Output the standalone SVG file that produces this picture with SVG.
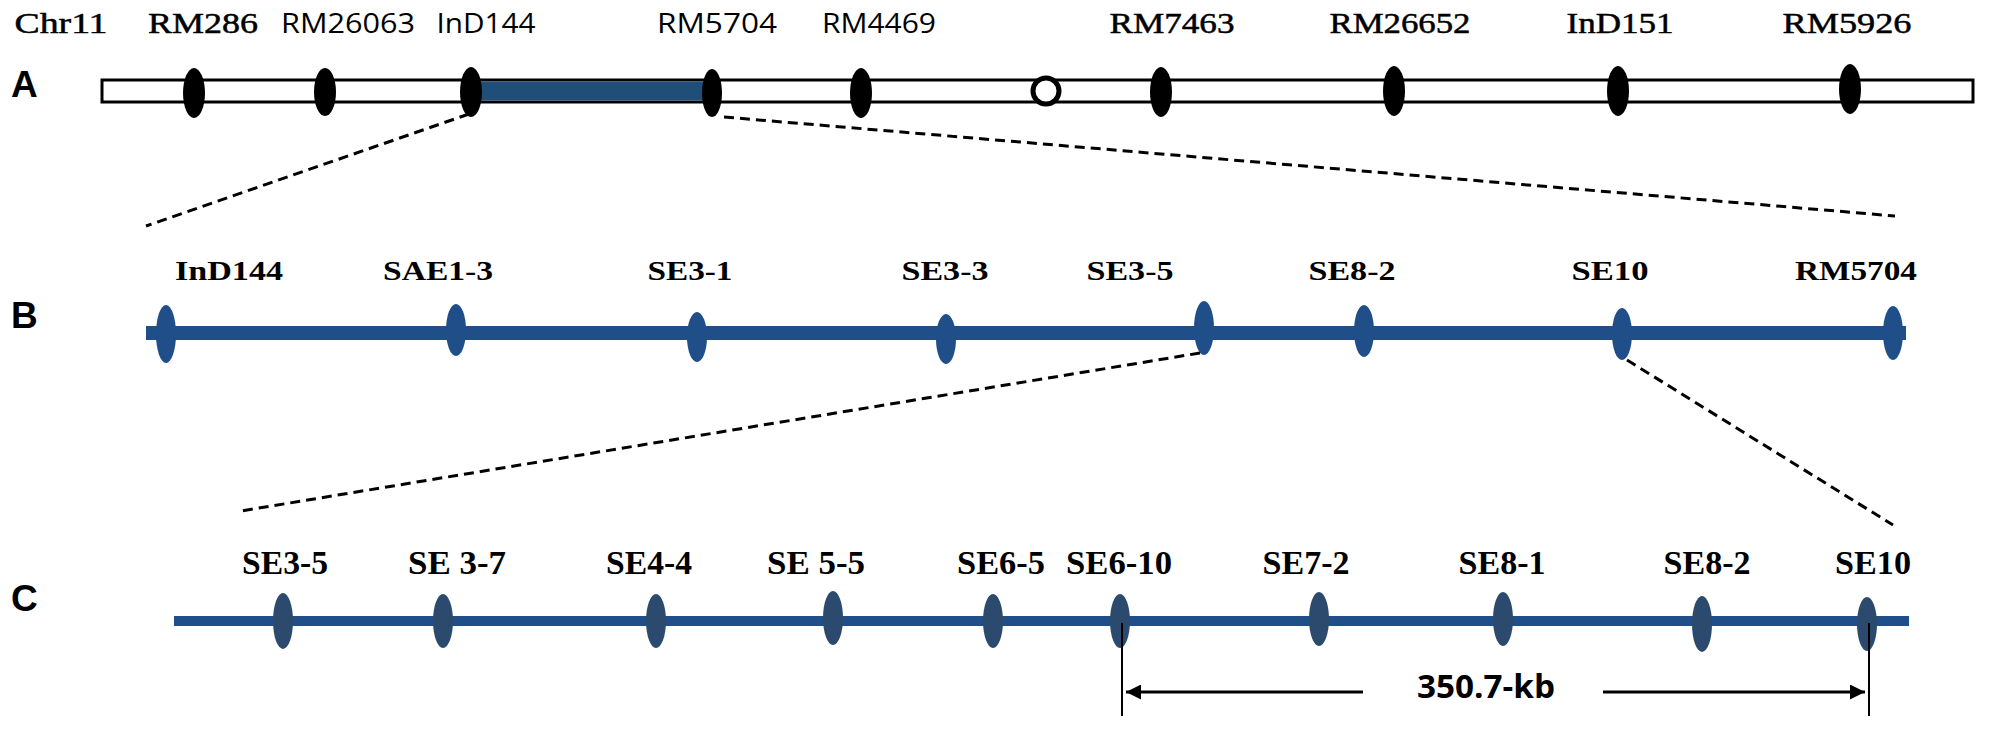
<svg xmlns="http://www.w3.org/2000/svg" width="1992" height="730" viewBox="0 0 1992 730">
<style>
.ts{font-family:"Liberation Serif","Times New Roman",serif;font-size:30px;fill:#000;stroke:#000;stroke-width:0.5;text-anchor:middle}
.tsb{font-family:"Liberation Serif","Times New Roman",serif;font-size:27px;font-weight:bold;fill:#000;text-anchor:middle}
.tsc{font-family:"Liberation Serif","Times New Roman",serif;font-size:33px;font-weight:bold;fill:#000;text-anchor:middle}
.ss{font-family:"Open Sans","Liberation Sans",sans-serif;font-size:28px;fill:#000;text-anchor:middle}
.lab{font-family:"Liberation Sans",Arial,sans-serif;font-size:37px;font-weight:bold;fill:#000}
.mA{fill:#000}
.mB{fill:#1f4e89}
.mC{fill:#2c4a6e}
.dash{stroke:#000;stroke-width:3;stroke-dasharray:10 6;fill:none}
</style>
<defs>
<marker id="ah" viewBox="0 0 10 10" refX="10" refY="5" markerWidth="5" markerHeight="5" orient="auto-start-reverse"><path d="M0,0 L10,5 L0,10 Z" fill="#000"/></marker>
</defs>
<rect width="1992" height="730" fill="#fff"/>
<g id="rowA">
<text class="ts" x="61" y="33" textLength="93" lengthAdjust="spacingAndGlyphs">Chr11</text>
<text class="ts" x="203" y="33" textLength="110" lengthAdjust="spacingAndGlyphs">RM286</text>
<text class="ss" x="348" y="33" textLength="134" lengthAdjust="spacingAndGlyphs">RM26063</text>
<text class="ss" x="486" y="33" textLength="99" lengthAdjust="spacingAndGlyphs">InD144</text>
<text class="ss" x="717" y="33" textLength="120" lengthAdjust="spacingAndGlyphs">RM5704</text>
<text class="ss" x="879" y="33" textLength="114" lengthAdjust="spacingAndGlyphs">RM4469</text>
<text class="ts" x="1172" y="33" textLength="125" lengthAdjust="spacingAndGlyphs">RM7463</text>
<text class="ts" x="1400" y="33" textLength="141" lengthAdjust="spacingAndGlyphs">RM26652</text>
<text class="ts" x="1620" y="33" textLength="107" lengthAdjust="spacingAndGlyphs">InD151</text>
<text class="ts" x="1847" y="33" textLength="129" lengthAdjust="spacingAndGlyphs">RM5926</text>
<text class="lab" x="11" y="97">A</text>
<rect x="102" y="80" width="1871" height="22" fill="#fff" stroke="#000" stroke-width="3"/>
<rect x="471" y="81.5" width="240" height="19" fill="#1f4e79"/>
<ellipse class="mA" cx="194" cy="93" rx="11" ry="25"/>
<ellipse class="mA" cx="325" cy="92" rx="11" ry="24"/>
<ellipse class="mA" cx="471" cy="92" rx="11" ry="25"/>
<ellipse class="mA" cx="712" cy="93" rx="10" ry="24"/>
<ellipse class="mA" cx="861" cy="93" rx="11" ry="25"/>
<circle cx="1046" cy="91" r="13" fill="#fff" stroke="#000" stroke-width="5"/>
<ellipse class="mA" cx="1161" cy="92" rx="11" ry="25"/>
<ellipse class="mA" cx="1394" cy="91" rx="11" ry="25"/>
<ellipse class="mA" cx="1618" cy="91" rx="11" ry="25"/>
<ellipse class="mA" cx="1850" cy="89" rx="11" ry="25"/>
</g>
<g id="rowB">
<text class="tsb" x="229" y="280" textLength="108" lengthAdjust="spacingAndGlyphs">InD144</text>
<text class="tsb" x="438" y="280" textLength="110" lengthAdjust="spacingAndGlyphs">SAE1-3</text>
<text class="tsb" x="690" y="280" textLength="85" lengthAdjust="spacingAndGlyphs">SE3-1</text>
<text class="tsb" x="945" y="280" textLength="87" lengthAdjust="spacingAndGlyphs">SE3-3</text>
<text class="tsb" x="1130" y="280" textLength="87" lengthAdjust="spacingAndGlyphs">SE3-5</text>
<text class="tsb" x="1352" y="280" textLength="87" lengthAdjust="spacingAndGlyphs">SE8-2</text>
<text class="tsb" x="1610" y="280" textLength="77" lengthAdjust="spacingAndGlyphs">SE10</text>
<text class="tsb" x="1856" y="280" textLength="122" lengthAdjust="spacingAndGlyphs">RM5704</text>
<text class="lab" x="11" y="328">B</text>
<line x1="146" y1="333" x2="1906" y2="333" stroke="#1f4e89" stroke-width="14"/>
<ellipse class="mB" cx="166" cy="334" rx="10" ry="29"/>
<ellipse class="mB" cx="456" cy="330" rx="10" ry="26"/>
<ellipse class="mB" cx="697" cy="337" rx="10" ry="25"/>
<ellipse class="mB" cx="946" cy="339" rx="10" ry="25"/>
<ellipse class="mB" cx="1204" cy="328" rx="10" ry="27"/>
<ellipse class="mB" cx="1364" cy="331" rx="10" ry="26"/>
<ellipse class="mB" cx="1622" cy="334" rx="10" ry="26"/>
<ellipse class="mB" cx="1893" cy="333" rx="10" ry="27"/>
</g>
<g id="rowC">
<text class="tsc" x="285" y="574" textLength="86" lengthAdjust="spacingAndGlyphs">SE3-5</text>
<text class="tsc" x="457" y="574" textLength="98" lengthAdjust="spacingAndGlyphs">SE 3-7</text>
<text class="tsc" x="649" y="574" textLength="86" lengthAdjust="spacingAndGlyphs">SE4-4</text>
<text class="tsc" x="816" y="574" textLength="98" lengthAdjust="spacingAndGlyphs">SE 5-5</text>
<text class="tsc" x="1001" y="574" textLength="88" lengthAdjust="spacingAndGlyphs">SE6-5</text>
<text class="tsc" x="1119" y="574" textLength="106" lengthAdjust="spacingAndGlyphs">SE6-10</text>
<text class="tsc" x="1306" y="574" textLength="87" lengthAdjust="spacingAndGlyphs">SE7-2</text>
<text class="tsc" x="1502" y="574" textLength="87" lengthAdjust="spacingAndGlyphs">SE8-1</text>
<text class="tsc" x="1707" y="574" textLength="87" lengthAdjust="spacingAndGlyphs">SE8-2</text>
<text class="tsc" x="1873" y="574" textLength="76" lengthAdjust="spacingAndGlyphs">SE10</text>
<text class="lab" x="11" y="611">C</text>
<line x1="174" y1="621" x2="1909" y2="621" stroke="#1f4e89" stroke-width="10"/>
<ellipse class="mC" cx="283" cy="621" rx="10" ry="28"/>
<ellipse class="mC" cx="443" cy="621" rx="10" ry="27"/>
<ellipse class="mC" cx="656" cy="621" rx="10" ry="27"/>
<ellipse class="mC" cx="833" cy="618" rx="10" ry="27"/>
<ellipse class="mC" cx="993" cy="621" rx="10" ry="27"/>
<ellipse class="mC" cx="1120" cy="621" rx="10" ry="27"/>
<ellipse class="mC" cx="1319" cy="619" rx="10" ry="27"/>
<ellipse class="mC" cx="1503" cy="619" rx="10" ry="27"/>
<ellipse class="mC" cx="1702" cy="624" rx="10" ry="28"/>
<ellipse class="mC" cx="1867" cy="624" rx="10" ry="27"/>
</g>
<g id="dimension">
<line x1="1122" y1="623" x2="1122" y2="716" stroke="#000" stroke-width="2"/>
<line x1="1869" y1="623" x2="1869" y2="716" stroke="#000" stroke-width="2"/>
<line x1="1363" y1="692" x2="1126" y2="692" stroke="#000" stroke-width="3" marker-end="url(#ah)"/>
<line x1="1603" y1="692" x2="1865" y2="692" stroke="#000" stroke-width="3" marker-end="url(#ah)"/>
<text x="1486" y="698" textLength="138" lengthAdjust="spacingAndGlyphs" style="font-family:'Open Sans','Liberation Sans',sans-serif;font-size:32px;font-weight:bold;text-anchor:middle">350.7-kb</text>
</g>
<g id="connectors">
<line class="dash" x1="469" y1="114" x2="146" y2="226"/>
<line class="dash" x1="724" y1="117" x2="1895" y2="216"/>
<line class="dash" x1="1200" y1="353" x2="241" y2="511"/>
<line class="dash" x1="1627" y1="360" x2="1893" y2="525"/>
</g>
</svg>
